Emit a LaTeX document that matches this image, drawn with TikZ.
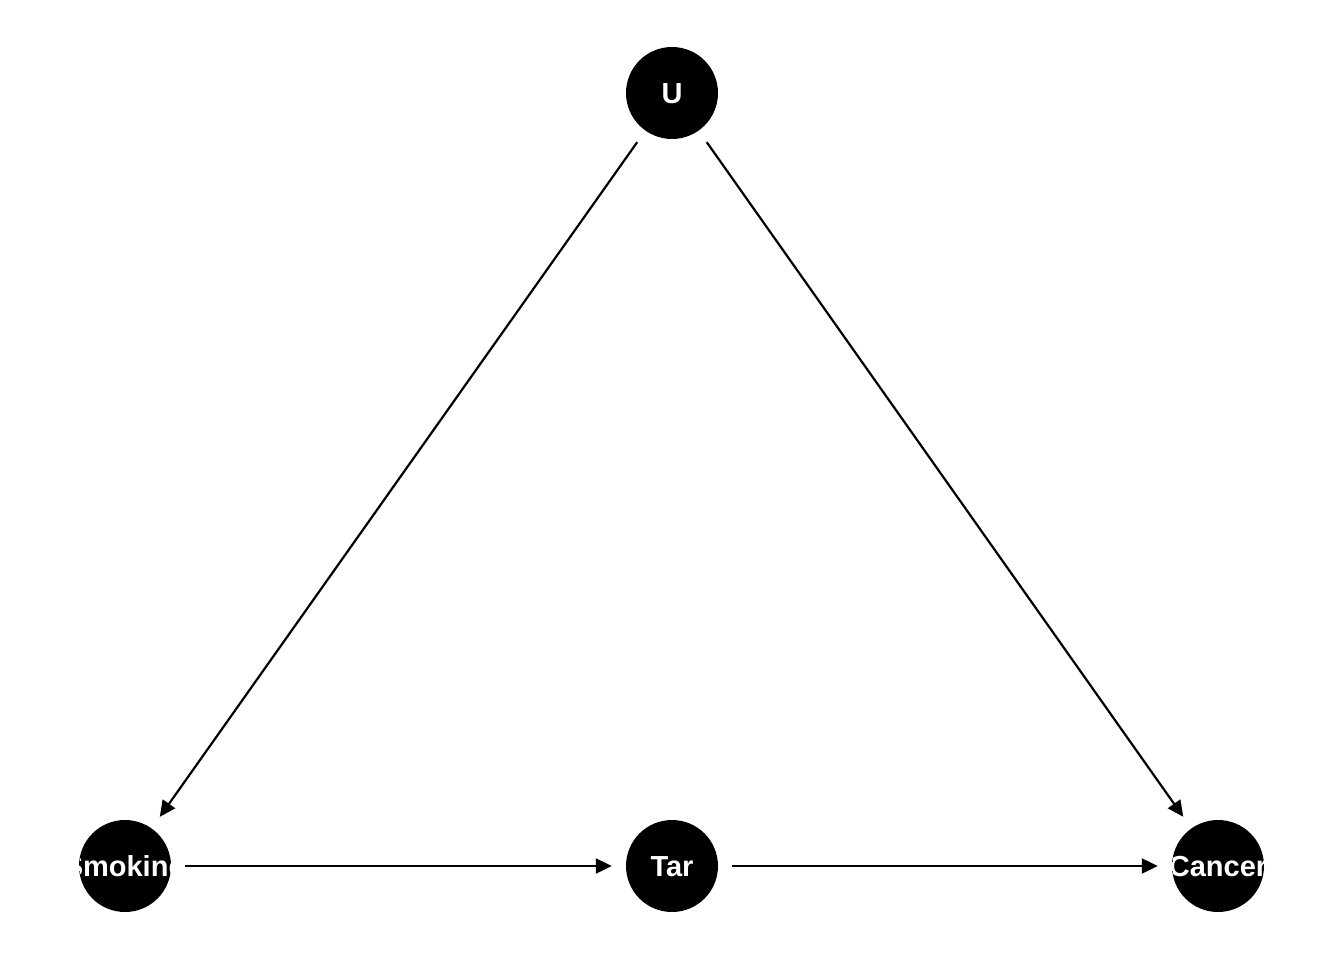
\documentclass[tikz,border=0pt]{standalone}
\usepackage{fontspec}
\setmainfont{Liberation Sans}
\usetikzlibrary{arrows.meta}
\begin{document}
\begin{tikzpicture}[x=1pt,y=-1pt,
  dagnode/.style={circle,fill=black,inner sep=0pt,minimum size=92pt},
  lbl/.style={text=white,font=\bfseries\fontsize{29}{31}\selectfont,inner sep=0pt,anchor=base},
  edge/.style={line width=2.2pt,-{Triangle[length=16pt,width=15pt]},shorten <=14pt,shorten >=14pt}]
\useasboundingbox (0,0) rectangle (1344,960);
\node[dagnode] (u) at (672,93) {};
\node[dagnode] (s) at (125,866) {};
\node[dagnode] (t) at (672,866) {};
\node[dagnode] (c) at (1218,866) {};
\foreach \n/\t in {u/U,s/Smoking,t/Tar,c/Cancer}{
  \begin{scope}
    \clip (\n.center) circle (46pt);
    \node[lbl] at ([yshift=-10.5pt]\n.center) {\t};
  \end{scope}
}
\draw[edge] (u) -- (s);
\draw[edge] (u) -- (c);
\draw[edge] (s) -- (t);
\draw[edge] (t) -- (c);
\end{tikzpicture}
\end{document}
